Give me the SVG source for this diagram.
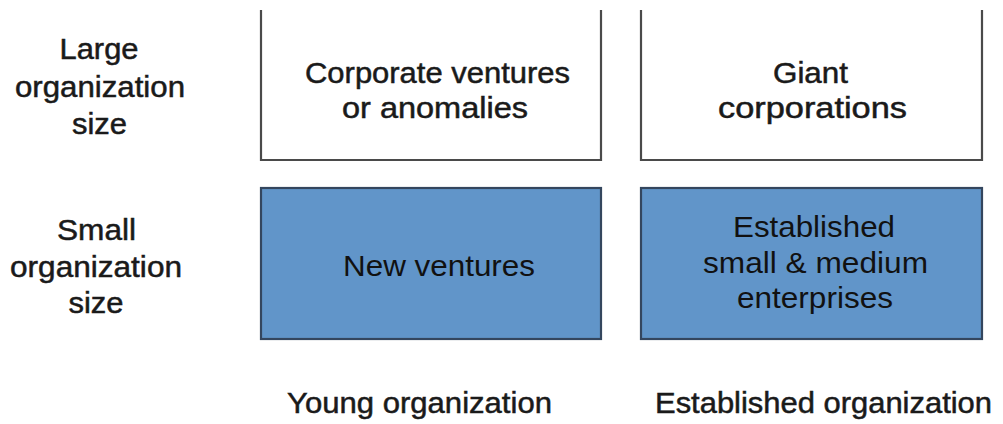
<svg xmlns="http://www.w3.org/2000/svg" width="1003" height="424" viewBox="0 0 1003 424">
<style>
text{font-family:"Liberation Sans",Arial,sans-serif;font-size:29px;fill:#111;text-anchor:middle}
.heavy{fill:#1a1a1a;stroke:#1a1a1a;stroke-width:0.5}
.open{fill:#fff;stroke:#4a4a4a;stroke-width:2.2}
.blue{fill:#6195c9;stroke:#34465e;stroke-width:2.2}
</style>
<rect width="1003" height="424" fill="#fff"/>
<g id="row-large">
<text class="heavy" x="99" y="59" textLength="79" lengthAdjust="spacingAndGlyphs">Large</text>
<text class="heavy" x="100" y="97" textLength="170" lengthAdjust="spacingAndGlyphs">organization</text>
<text class="heavy" x="99.5" y="134" textLength="55" lengthAdjust="spacingAndGlyphs">size</text>
</g>
<g id="row-small">
<text class="heavy" x="96.5" y="240" textLength="79" lengthAdjust="spacingAndGlyphs">Small</text>
<text class="heavy" x="96" y="277" textLength="172" lengthAdjust="spacingAndGlyphs">organization</text>
<text class="heavy" x="96" y="313" textLength="55" lengthAdjust="spacingAndGlyphs">size</text>
</g>
<g id="corporate-ventures">
<rect x="261" y="10" width="340" height="150" fill="#fff"/>
<path class="open" d="M261 10V160H601V10"/>
<text class="heavy" x="437.5" y="83" textLength="265" lengthAdjust="spacingAndGlyphs">Corporate ventures</text>
<text class="heavy" x="435" y="118" textLength="186" lengthAdjust="spacingAndGlyphs">or anomalies</text>
</g>
<g id="giant-corporations">
<rect x="641" y="10" width="341" height="150" fill="#fff"/>
<path class="open" d="M641 10V160H982V10"/>
<text class="heavy" x="810.5" y="83" textLength="75" lengthAdjust="spacingAndGlyphs">Giant</text>
<text class="heavy" x="812.5" y="118" textLength="189" lengthAdjust="spacingAndGlyphs">corporations</text>
</g>
<g id="new-ventures">
<rect class="blue" x="261" y="188" width="340" height="151"/>
<text x="439" y="276" textLength="192" lengthAdjust="spacingAndGlyphs">New ventures</text>
</g>
<g id="established-sme">
<rect class="blue" x="641" y="188" width="341" height="151"/>
<text x="814" y="237" textLength="162" lengthAdjust="spacingAndGlyphs">Established</text>
<text x="815.5" y="273" textLength="225" lengthAdjust="spacingAndGlyphs">small &amp; medium</text>
<text x="815" y="308" textLength="156" lengthAdjust="spacingAndGlyphs">enterprises</text>
</g>
<g id="col-young">
<text class="heavy" x="419.5" y="413" textLength="265" lengthAdjust="spacingAndGlyphs">Young organization</text>
</g>
<g id="col-established">
<text class="heavy" x="823.5" y="413" textLength="337" lengthAdjust="spacingAndGlyphs">Established organization</text>
</g>
<g id="connectors"/>
</svg>
